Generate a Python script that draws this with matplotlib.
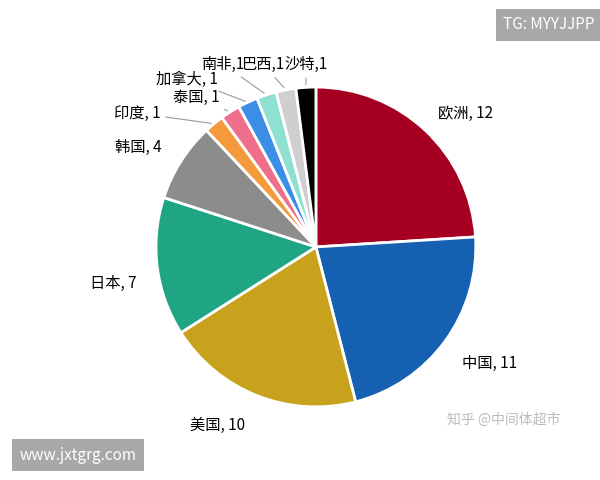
import numpy as np
import matplotlib.pyplot as plt

plt.rcParams['font.family'] = ['Noto Sans CJK SC', 'DejaVu Sans']

regions = ["欧洲", "中国", "美国", "日本", "韩国", "印度", "泰国", "加拿大", "南非", "巴西", "沙特"]
counts = [12, 11, 10, 7, 4, 1, 1, 1, 1, 1, 1]
colors = ["#a50021", "#1560b0", "#c8a21c", "#1fa584", "#8c8c8c", "#f49a3c",
          "#ef6f8a", "#3a8ee6", "#8ee0d0", "#cfcfcf", "#000000"]
# label centres (figure pixels from top-left)
label_pos = {"欧洲": (466, 113), "中国": (490, 363), "美国": (218, 425), "日本": (113, 283),
             "韩国": (138, 147), "印度": (137, 113), "泰国": (196, 97), "加拿大": (187, 79),
             "南非": (223, 64), "巴西": (263, 64), "沙特": (306, 64)}
small = {"印度", "泰国", "加拿大", "南非", "巴西", "沙特"}

W, H = 600, 480
fig = plt.figure(figsize=(W / 100, H / 100), dpi=100)
ax = fig.add_axes([0.26, 0.152, 0.533, 0.667])
wedges, _ = ax.pie(counts, colors=colors, startangle=90, counterclock=False,
                   wedgeprops=dict(edgecolor="white", linewidth=2))
ax.set_xlim(-1, 1)
ax.set_ylim(-1, 1)
ax.set_aspect("equal")

for w, name, c in zip(wedges, regions, counts):
    ang = np.deg2rad((w.theta1 + w.theta2) / 2)
    x, y = np.cos(ang), np.sin(ang)
    px, py = label_pos[name]
    fx, fy = px / W, 1 - py / H
    txt = f"{name}, {c}" if name not in ("南非", "巴西", "沙特") else f"{name},{c}"
    arrow = dict(arrowstyle="-", color="#999999", lw=0.8) if name in small else None
    ax.annotate(txt, xy=(x, y), xytext=(fx, fy), textcoords="figure fraction",
                ha="center", va="center", fontsize=11, arrowprops=arrow)

fig.text(0.915, 0.948, "TG: MYYJJPP", ha="center", va="center", color="white", fontsize=11,
         bbox=dict(boxstyle="square,pad=0.5", fc="#a8a8a8", ec="none"))
fig.text(0.13, 0.052, "www.jxtgrg.com", ha="center", va="center", color="white", fontsize=11,
         bbox=dict(boxstyle="square,pad=0.5", fc="#a8a8a8", ec="none"))
fig.text(0.84, 0.125, "知乎 @中间体超市", ha="center", va="center", color="#bbbbbb", fontsize=10)

fig.savefig("out.png", dpi=100, facecolor="white")
